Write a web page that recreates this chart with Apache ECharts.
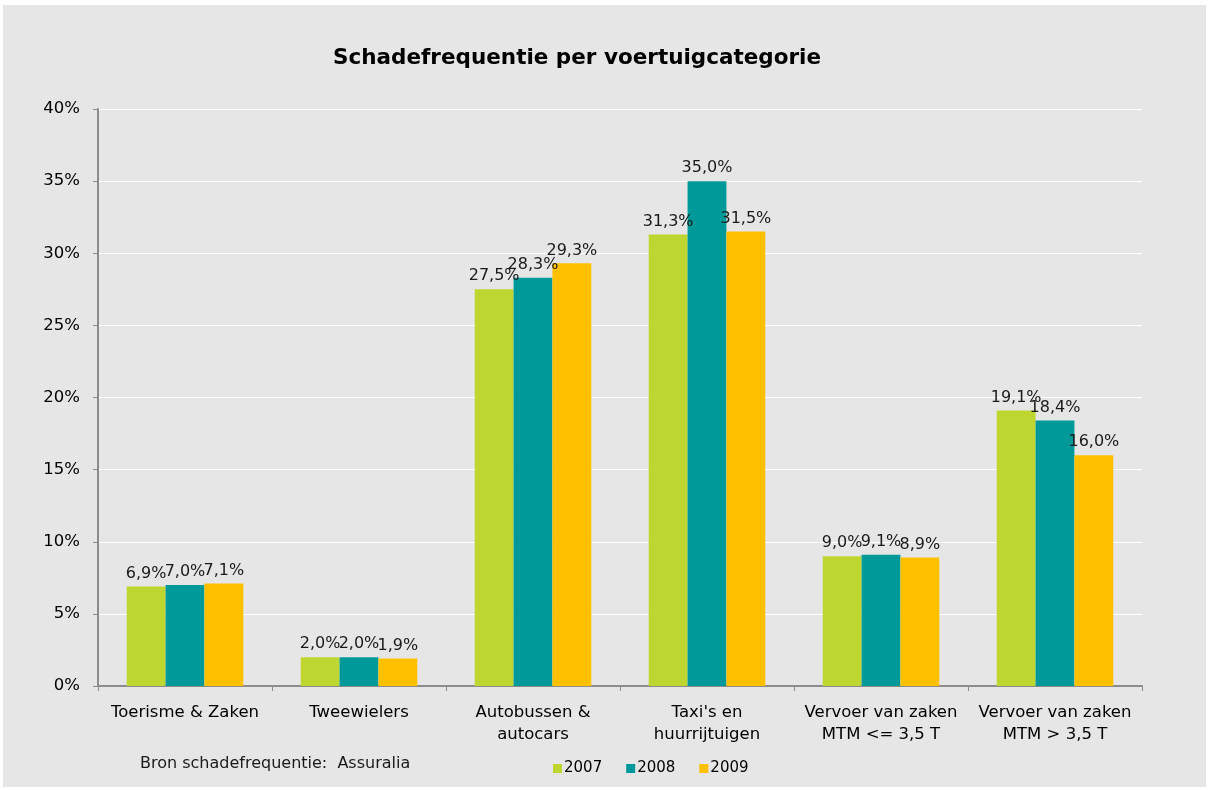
<!DOCTYPE html>
<html>
<head>
<meta charset="utf-8">
<script src="https://cdn.jsdelivr.net/npm/echarts@6/dist/echarts.min.js"></script>
<style>
  html, body { margin: 0; padding: 0; background: #ffffff; }
  #chart { position: absolute; left: 3px; top: 5px; width: 1203px; height: 782px; }
</style>
</head>
<body>
<div id="chart"></div>
<script>
// categorieen en waarden (%)
var categories = ['Toerisme & Zaken', 'Tweewielers', 'Autobussen &\nautocars', "Taxi's en\nhuurrijtuigen", 'Vervoer van zaken\nMTM <= 3,5 T', 'Vervoer van zaken\nMTM > 3,5 T'];
var years = ['2007', '2008', '2009'];
var v2007 = [6.9, 2.0, 27.5, 31.3, 9.0, 19.1];
var v2008 = [7.0, 2.0, 28.3, 35.0, 9.1, 18.4];
var v2009 = [7.1, 1.9, 29.3, 31.5, 8.9, 16.0];
var colors = ['#c0d630', '#009999', '#ffc000'];

var font = 'DejaVu Sans, Verdana, sans-serif';

function pct(v) {
  return v.toFixed(1).replace('.', ',') + '%';
}

var chart = echarts.init(document.getElementById('chart'));

function makeSeries(name, data, i) {
  return {
    name: name,
    type: 'bar',
    data: data,
    barGap: '0%',
    barCategoryGap: '33%',
    itemStyle: { color: colors[i] },
    label: {
      show: true,
      position: 'top',
      distance: 5,
      color: '#1a1a1a',
      fontFamily: font,
      fontSize: 16,
      formatter: function (p) { return pct(p.value); }
    }
  };
}

chart.setOption({
  backgroundColor: '#e6e6e6',
  animation: false,
  title: {
    text: 'Schadefrequentie per voertuigcategorie',
    left: 325,
    top: 37,
    textStyle: { fontFamily: font, fontSize: 21.5, fontWeight: 'bold', color: '#000' }
  },
  graphic: [{
    type: 'text',
    left: 137,
    top: 751,
    style: { text: 'Bron schadefrequentie:  Assuralia', fontFamily: font, fontSize: 16, fill: '#1a1a1a' }
  }],
  legend: {
    data: years,
    left: 545,
    top: 751,
    itemWidth: 9,
    itemHeight: 9,
    itemGap: 24,
    icon: 'rect',
    textStyle: { fontFamily: font, fontSize: 15, color: '#000', padding: [0, 0, 0, -3] }
  },
  grid: { left: 95, right: 64, top: 104, bottom: 101 },
  xAxis: {
    type: 'category',
    data: categories,
    axisLine: { lineStyle: { color: '#8c8c8c', width: 2 } },
    axisTick: { show: true, length: 5, lineStyle: { color: '#8c8c8c' } },
    axisLabel: { fontFamily: font, fontSize: 16.5, color: '#000', margin: 16, lineHeight: 22, interval: 0 }
  },
  yAxis: {
    type: 'value',
    min: 0,
    max: 40,
    interval: 5,
    axisLine: { show: true, lineStyle: { color: '#8c8c8c', width: 2 } },
    axisTick: { show: true, length: 5, lineStyle: { color: '#8c8c8c' } },
    splitLine: { lineStyle: { color: '#ffffff', width: 1 } },
    axisLabel: { fontFamily: font, fontSize: 16.5, color: '#000', margin: 18, formatter: '{value}%' }
  },
  series: [
    makeSeries(years[0], v2007, 0),
    makeSeries(years[1], v2008, 1),
    makeSeries(years[2], v2009, 2)
  ]
});
</script>
</body>
</html>
